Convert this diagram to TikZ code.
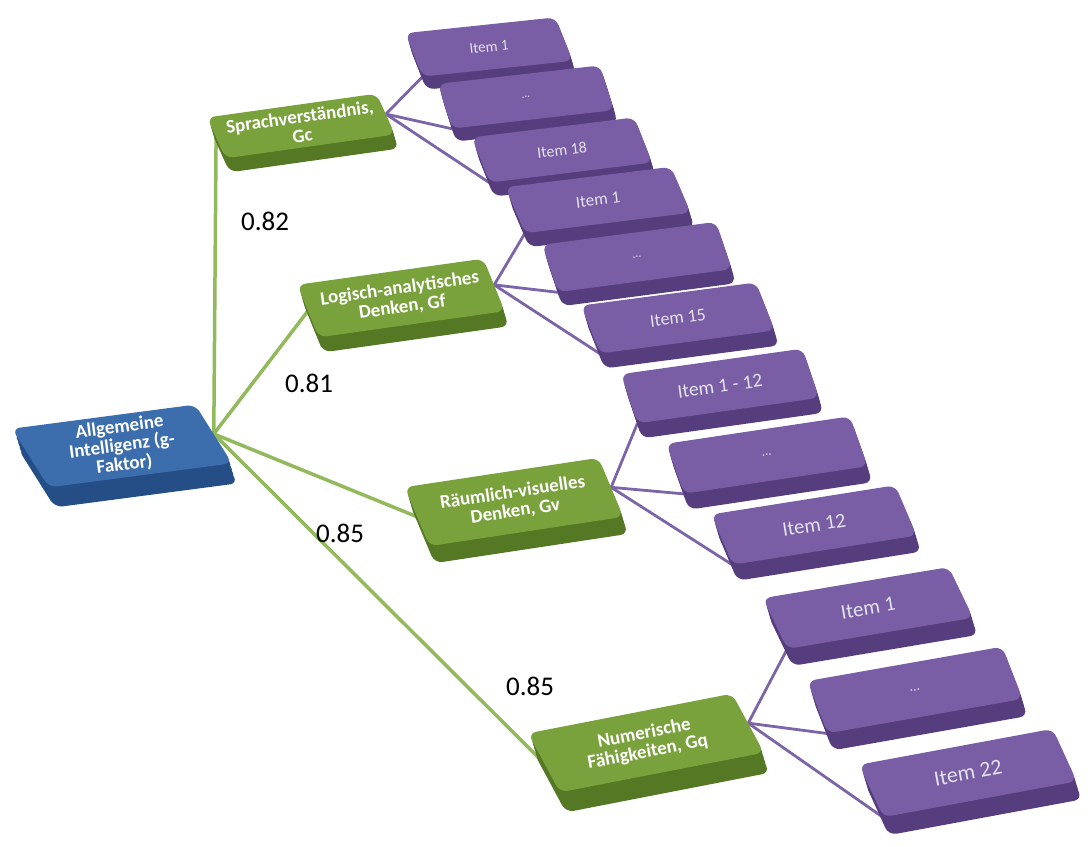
\documentclass[tikz,border=0pt]{standalone}
\usepackage{fontspec}
\setmainfont{Carlito}
\usetikzlibrary{positioning, shapes.geometric, shadows, backgrounds}

\definecolor{gfill}{RGB}{60,110,174}
\definecolor{gside}{RGB}{38,78,134}
\definecolor{facfill}{RGB}{122,162,60}
\definecolor{facside}{RGB}{84,120,36}
\definecolor{itemfill}{RGB}{121,93,165}
\definecolor{itemside}{RGB}{86,62,126}
\definecolor{itemtext}{RGB}{228,226,234}
\definecolor{loadline}{RGB}{146,186,92}
\definecolor{itemline}{RGB}{124,100,168}

\tikzset{
    slab/.style={trapezium, trapezium left angle=110, trapezium right angle=70, trapezium stretches=true, rounded corners=8pt, inner sep=0pt, align=center},
    extrude/.style 2 args={
        general shadow={fill=#1, shadow xshift=#2*0.075, shadow yshift=-#2*0.25},
        general shadow={fill=#1, shadow xshift=#2*0.15, shadow yshift=-#2*0.5},
        general shadow={fill=#1, shadow xshift=#2*0.225, shadow yshift=-#2*0.75},
        general shadow={fill=#1, shadow xshift=#2*0.3, shadow yshift=-#2}},
    gbox/.style={slab, fill=gfill, text=white, font=\bfseries\fontsize{19}{19}\selectfont, extrude={gside}{#1}},
    factor/.style={slab, fill=facfill, text=white, font=\bfseries\fontsize{19}{19}\selectfont, extrude={facside}{#1}},
    item/.style={slab, fill=itemfill, text=itemtext, extrude={itemside}{#1}},
    loading/.style={draw=loadline, line width=3.5pt},
    itemedge/.style={draw=itemline, line width=2.8pt},
    loadlabel/.style={font=\fontsize{27}{27}\selectfont, inner sep=0pt}
}

\begin{document}
\begin{tikzpicture}[x=1pt, y=-1pt]
\useasboundingbox (0,0) rectangle (1092,846);

% g factor
\node[gbox=20pt, minimum width=214pt, minimum height=63pt, rotate=7.5] (g) at (122,446) {Allgemeine\\Intelligenz (g-\\Faktor)};

% broad abilities
\node[factor=14pt, minimum width=184pt, minimum height=43pt, rotate=8] (gc) at (301,126) {Sprachverständnis,\\Gc};
\node[factor=15pt, minimum width=202pt, minimum height=55pt, rotate=8] (gf) at (401,298) {Logisch-analytisches\\Denken, Gf};
\node[factor=17pt, minimum width=212pt, minimum height=62pt, rotate=8.6] (gv) at (514,502) {Räumlich-visuelles\\Denken, Gv};
\node[factor=20pt, minimum width=228pt, minimum height=64pt, rotate=11] (gq) at (646,743) {Numerische\\Fähigkeiten, Gq};

% items, Gc
\node[item=13pt, minimum width=164pt, minimum height=45pt, rotate=6, font=\fontsize{15}{15}\selectfont] (gc1) at (489,47) {Item 1};
\node[item=13pt, minimum width=172pt, minimum height=46pt, rotate=6.5, font=\fontsize{11}{11}\selectfont] (gc2) at (526,97) {...};
\node[item=14pt, minimum width=177pt, minimum height=47pt, rotate=7, font=\fontsize{16}{16}\selectfont] (gc3) at (562,150) {Item 18};

% items, Gf
\node[item=14pt, minimum width=181pt, minimum height=48pt, rotate=7, font=\fontsize{17}{17}\selectfont] (gf1) at (598,200) {Item 1};
\node[item=14pt, minimum width=185pt, minimum height=49pt, rotate=7.5, font=\fontsize{12}{12}\selectfont] (gf2) at (637,257) {...};
\node[item=15pt, minimum width=190pt, minimum height=50pt, rotate=7.5, font=\fontsize{18}{18}\selectfont] (gf3) at (678,318) {Item 15};

% items, Gv
\node[item=15pt, minimum width=194pt, minimum height=51pt, rotate=8, font=\fontsize{19.5}{19.5}\selectfont] (gv1) at (720,386) {Item 1 - 12};
\node[item=16pt, minimum width=196pt, minimum height=52pt, rotate=8.5, font=\fontsize{13}{13}\selectfont] (gv2) at (767,455) {...};
\node[item=16pt, minimum width=201pt, minimum height=53pt, rotate=9, font=\fontsize{20.5}{20.5}\selectfont] (gv3) at (814,525) {Item 12};

% items, Gq
\node[item=17pt, minimum width=205pt, minimum height=54pt, rotate=9.5, font=\fontsize{21}{21}\selectfont] (gq1) at (868,608) {Item 1};
\node[item=17pt, minimum width=209pt, minimum height=55pt, rotate=10, font=\fontsize{14}{14}\selectfont] (gq2) at (915,690) {...};
\node[item=18pt, minimum width=212pt, minimum height=56pt, rotate=10.5, font=\fontsize{22}{22}\selectfont] (gq3) at (968,773) {Item 22};

% connectors behind the slabs
\begin{scope}[on background layer]
\draw[loading] (g.east) -- (gc.west);
\draw[loading] (g.east) -- (gf.west);
\draw[loading] (g.east) -- (gv.west);
\draw[loading] (g.east) -- (gq.west);
\foreach \f in {gc, gf, gv, gq} {
    \foreach \k in {1, 2, 3}
        \draw[itemedge] (\f.east) -- (\f\k.bottom left corner);
}
\end{scope}

% loadings
\node[loadlabel] (l-gc) at (265,221) {0.82};
\node[loadlabel] (l-gf) at (309,383) {0.81};
\node[loadlabel] (l-gv) at (340,533) {0.85};
\node[loadlabel] (l-gq) at (530,686) {0.85};
\end{tikzpicture}
\end{document}
